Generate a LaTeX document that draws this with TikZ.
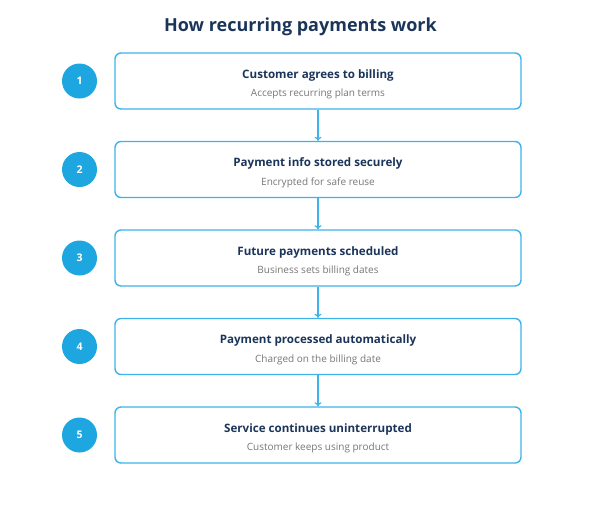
\documentclass[tikz,border=0pt]{standalone}
\usepackage{fontspec}
\setmainfont{Open Sans}
\usetikzlibrary{arrows.meta}
\definecolor{navy}{HTML}{1B355A}
\definecolor{boxblue}{HTML}{3DB3EA}
\definecolor{circblue}{HTML}{1DA6E0}
\definecolor{subgray}{HTML}{777777}
\begin{document}
\begin{tikzpicture}[x=1pt,y=-1pt,
  stepbox/.style={draw=boxblue,line width=1.4pt,rounded corners=6pt,minimum width=406pt,minimum height=56pt,fill=white},
  numcirc/.style={circle,fill=circblue,minimum size=35pt,inner sep=0pt,text=white,font=\fontsize{10.5}{13}\selectfont\bfseries},
  steptitle/.style={anchor=base,inner sep=0pt,font=\fontsize{11.6}{14}\selectfont\bfseries,text=navy},
  stepsub/.style={anchor=base,inner sep=0pt,font=\fontsize{10}{12}\selectfont,text=subgray},
  flow/.style={draw=boxblue,line width=1.2pt,-{To[length=4pt,width=7pt]}}
]
\useasboundingbox (0,0) rectangle (601,504);
\node[anchor=base,inner sep=0pt,font=\fontsize{18}{22}\selectfont\bfseries,text=navy] (title) at (300.5,31) {How recurring payments work};
\foreach \i/\y/\t/\s in {1/81/Customer agrees to billing/Accepts recurring plan terms,
  2/169.5/Payment info stored securely/Encrypted for safe reuse,
  3/258/Future payments scheduled/Business sets billing dates,
  4/346.5/Payment processed automatically/Charged on the billing date,
  5/435/Service continues uninterrupted/Customer keeps using product}{
  \node[stepbox] (b\i) at (318,\y) {};
  \node[numcirc] (c\i) at (79.5,\y) {\i};
  \node[steptitle] (t\i) at (318,\y-2.7) {\t};
  \node[stepsub] (s\i) at (318,\y+15.7) {\s};
}
\foreach \a/\b in {1/2,2/3,3/4,4/5}{
  \draw[flow] (b\a.south) -- (b\b.north);
}
\end{tikzpicture}
\end{document}
